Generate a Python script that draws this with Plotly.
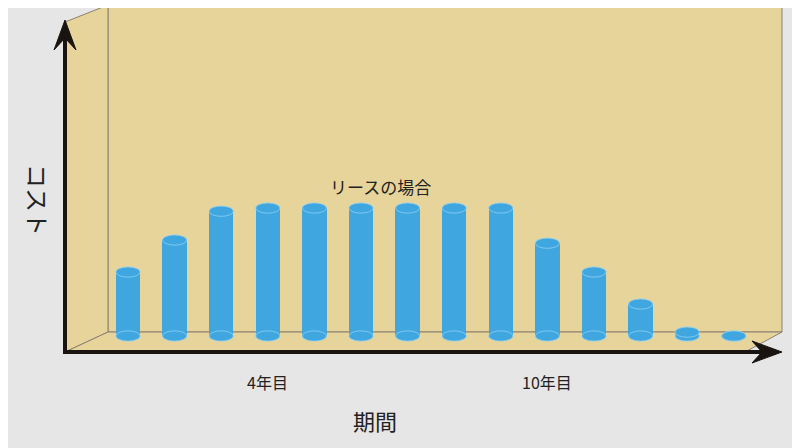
import plotly.graph_objects as go

periods = list(range(1, 15))
costs = [2.0, 3.0, 3.9, 4.0, 4.0, 4.0, 4.0, 4.0, 4.0, 2.9, 2.0, 1.0, 0.12, 0.0]
tick_labels = {4: "4年目", 10: "10年目"}

OFF = 8
W, H = 800 - OFF, 448 - OFF
def px(x): return (x - OFF) / W
def py(y): return 1 - (y - OFF) / H

BLUE = "#3fa6e0"
TAN = "#e7d49b"
EDGE = "#8a8070"

fig = go.Figure()
fig.add_trace(go.Bar(x=periods, y=costs, width=0.52, marker=dict(color=BLUE, line=dict(width=0)), hoverinfo="skip"))

shapes = []
shapes.append(dict(type="rect", xref="paper", yref="paper", x0=px(108), x1=px(782), y0=py(332), y1=py(5),
                   fillcolor=TAN, line=dict(color=EDGE, width=1), layer="below"))
shapes.append(dict(type="path", xref="paper", yref="paper",
                   path=f"M {px(65)},{py(22)} L {px(108)},{py(5)} L {px(108)},{py(332)} L {px(65)},{py(352)} Z",
                   fillcolor=TAN, line=dict(color=EDGE, width=1), layer="below"))
shapes.append(dict(type="path", xref="paper", yref="paper",
                   path=f"M {px(65)},{py(352)} L {px(108)},{py(332)} L {px(782)},{py(332)} L {px(745)},{py(352)} Z",
                   fillcolor=TAN, line=dict(color=EDGE, width=1), layer="below"))
hw, hh = 0.26, 0.16
for p, c in zip(periods, costs):
    for v in (0.0, c):
        shapes.append(dict(type="circle", xref="x", yref="y", x0=p - hw, x1=p + hw, y0=v - hh, y1=v + hh,
                           fillcolor=BLUE, line=dict(color="#8fd0f2", width=0.8), layer="above"))
shapes.append(dict(type="line", xref="paper", yref="paper", x0=px(65), x1=px(65), y0=py(354), y1=py(30),
                   line=dict(color="#1a1410", width=4)))
shapes.append(dict(type="line", xref="paper", yref="paper", x0=px(63), x1=px(770), y0=py(352), y1=py(352),
                   line=dict(color="#1a1410", width=4)))
shapes.append(dict(type="path", xref="paper", yref="paper",
                   path=f"M {px(54)},{py(50)} L {px(65)},{py(20)} L {px(76)},{py(50)} L {px(65)},{py(38)} Z",
                   fillcolor="#1a1410", line=dict(color="#1a1410", width=1)))
shapes.append(dict(type="path", xref="paper", yref="paper",
                   path=f"M {px(752)},{py(341)} L {px(782)},{py(352)} L {px(752)},{py(363)} L {px(762)},{py(352)} Z",
                   fillcolor="#1a1410", line=dict(color="#1a1410", width=1)))

ann = [
    dict(x=px(380), y=py(186), text="リースの場合", font=dict(size=17, color="#222")),
    dict(x=px(375), y=py(420), text="期間", font=dict(size=22, color="#222")),
    dict(x=px(38), y=py(200), text="コスト", textangle=90, font=dict(size=24, color="#222")),
]
for p, t in tick_labels.items():
    ann.append(dict(x=p, xref="x", y=py(382), text=t, font=dict(size=16, color="#222")))
for a in ann:
    a.setdefault("xref", "paper"); a["yref"] = "paper"; a["showarrow"] = False
    a["xanchor"] = "center"; a["yanchor"] = "middle"

fig.update_layout(
    width=W, height=H, margin=dict(l=0, r=0, t=0, b=0),
    paper_bgcolor="#e6e6e6", plot_bgcolor="rgba(0,0,0,0)",
    font=dict(family="Noto Sans CJK JP"),
    xaxis=dict(range=[1 - (128 - OFF) / 46.6, 1 + 672 / 46.6], visible=False, fixedrange=True),
    yaxis=dict(range=[-3.5, (336 - OFF) / 32], visible=False, fixedrange=True),
    shapes=shapes, annotations=ann, showlegend=False, bargap=0,
)
fig.write_html("out.html")
